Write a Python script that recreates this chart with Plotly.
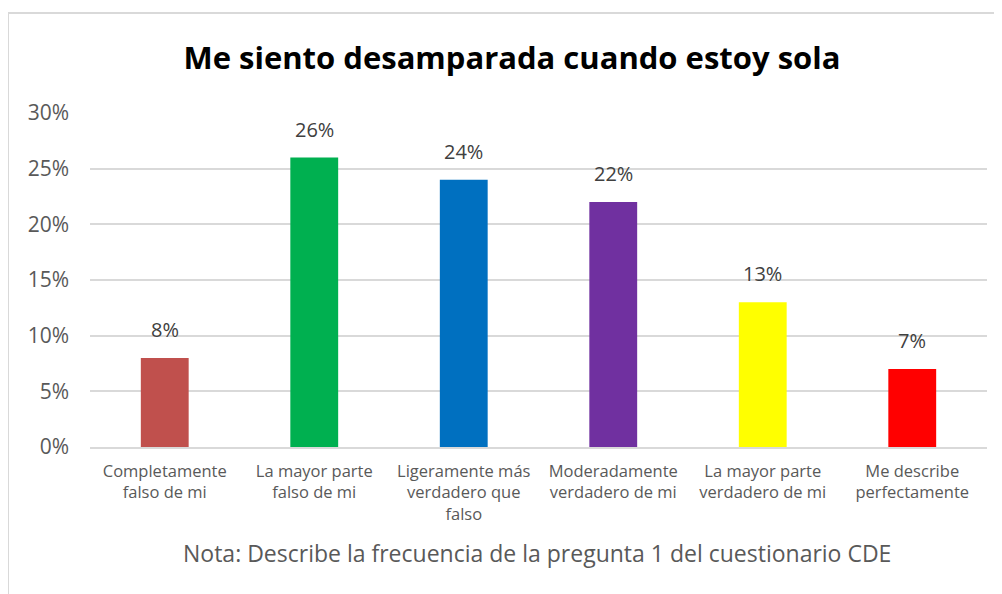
import plotly.graph_objects as go

categorias = [
    "Completamente<br>falso de mi",
    "La mayor parte<br>falso de mi",
    "Ligeramente más<br>verdadero que<br>falso",
    "Moderadamente<br>verdadero de mi",
    "La mayor parte<br>verdadero de mi",
    "Me describe<br>perfectamente",
]
porcentajes = [0.08, 0.26, 0.24, 0.22, 0.13, 0.07]
colores = ["#C0504D", "#00B050", "#0070C0", "#7030A0", "#FFFF00", "#FF0000"]
ticks_y = [0, 0.05, 0.10, 0.15, 0.20, 0.25, 0.30]

FONT = "Open Sans"

fig = go.Figure()
fig.add_trace(go.Bar(
    x=categorias,
    y=porcentajes,
    marker=dict(color=colores, line=dict(width=0)),
))

# etiquetas de datos encima de cada barra
etiquetas = [
    dict(x=c, y=v, text=f"{round(v * 100)}%", xref="x", yref="y",
         showarrow=False, yanchor="bottom", yshift=13,
         font=dict(family=FONT, size=20, color="#404040"))
    for c, v in zip(categorias, porcentajes)
]

# the page has an 8px body margin, so the figure is 8px smaller
fig.update_layout(
    width=994,
    height=586,
    margin=dict(l=82, r=15, t=105, b=147),
    paper_bgcolor="white",
    plot_bgcolor="white",
    showlegend=False,
    bargap=0.68,
    title=dict(
        text="<b>Me siento desamparada cuando estoy sola</b>",
        x=0.507, xanchor="center",
        y=0.915, yanchor="middle",
        font=dict(family=FONT, size=31, color="black"),
    ),
    xaxis=dict(
        showgrid=False,
        showline=True,
        linecolor="#D9D9D9",
        linewidth=2,
        ticks="",
        ticklabelstandoff=8,
        tickfont=dict(family=FONT, size=16.5, color="#595959"),
    ),
    yaxis=dict(
        range=[0, 0.30],
        tickvals=ticks_y,
        tickformat=".0%",
        showgrid=True,
        gridcolor="#D9D9D9",
        gridwidth=2,
        zeroline=False,
        ticks="",
        ticklabelstandoff=20,
        tickfont=dict(family=FONT, size=21, color="#595959"),
    ),
    annotations=etiquetas + [dict(
        text="Nota: Describe la frecuencia de la pregunta 1 del cuestionario CDE",
        xref="paper", yref="paper",
        x=0.498, y=-0.318,
        xanchor="center", yanchor="middle",
        showarrow=False,
        font=dict(family=FONT, size=23, color="#595959"),
    )],
    shapes=[
        dict(type="line", xref="paper", yref="paper",
             x0=-0.0914, x1=1.02, y0=1.2994, y1=1.2994,
             line=dict(color="#D9D9D9", width=2)),
        dict(type="line", xref="paper", yref="paper",
             x0=-0.0914, x1=-0.0914, y0=1.2994, y1=-0.46,
             line=dict(color="#D9D9D9", width=2)),
    ],
)

fig.write_html("out.html")
